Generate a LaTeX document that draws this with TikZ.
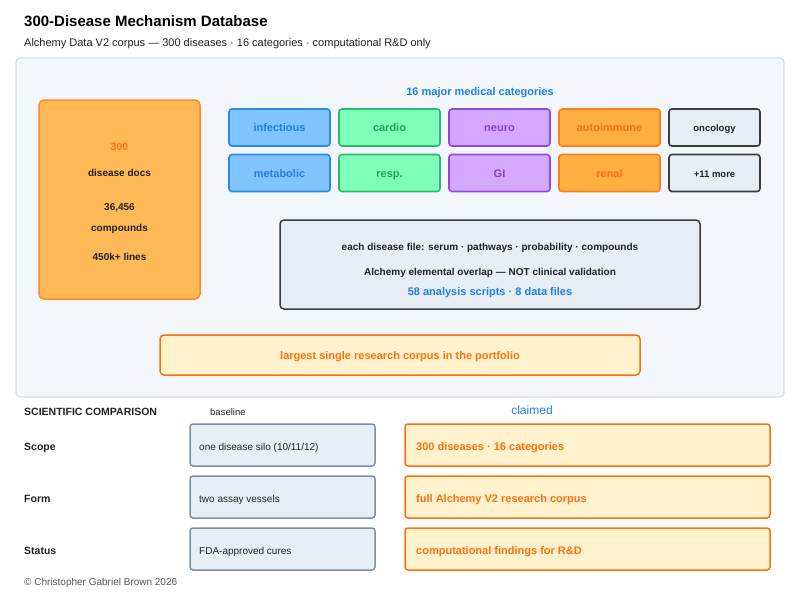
\documentclass[tikz,border=0pt]{standalone}
\usepackage{fontspec}
\setmainfont{Liberation Sans}
\usepackage{xcolor}

\definecolor{panelfill}{HTML}{F3F6FA}
\definecolor{panelline}{HTML}{D6DEE8}
\definecolor{inkdark}{HTML}{222222}
\definecolor{inkblue}{HTML}{1E80E0}
\definecolor{orgfill}{HTML}{FFB957}
\definecolor{orgline}{HTML}{FF8A2A}
\definecolor{orgtext}{HTML}{FF7010}
\definecolor{blufill}{HTML}{82C4FF}
\definecolor{bluline}{HTML}{2A8AE8}
\definecolor{grnfill}{HTML}{80FFB8}
\definecolor{grnline}{HTML}{2CB872}
\definecolor{grntext}{HTML}{22A05E}
\definecolor{purfill}{HTML}{D4A8FF}
\definecolor{purline}{HTML}{9048E0}
\definecolor{purtext}{HTML}{8A3ED8}
\definecolor{autfill}{HTML}{FFB040}
\definecolor{autline}{HTML}{FF7F1A}
\definecolor{grayfill}{HTML}{E8EEF6}
\definecolor{grayline}{HTML}{3C3C3C}
\definecolor{basline}{HTML}{8090A0}
\definecolor{notefill}{HTML}{FFF2CC}
\definecolor{noteline}{HTML}{FF700A}
\definecolor{footgray}{HTML}{555555}

\tikzset{
  every node/.style={inner sep=0pt, text height=.95em, text depth=.07em},
  catbox/.style={draw, line width=1.6pt, rounded corners=3pt, minimum width=101pt,
    minimum height=37pt, font=\fontsize{11}{13}\selectfont\bfseries},
  basebox/.style={draw=basline, fill=grayfill, line width=1.5pt, rounded corners=3pt,
    minimum width=185pt, minimum height=42pt},
  claimbox/.style={draw=noteline, fill=notefill, line width=1.5pt, rounded corners=3pt,
    minimum width=365pt, minimum height=42pt},
  rowlabel/.style={anchor=west, text=inkdark, font=\fontsize{10.5}{12}\selectfont\bfseries},
  basetext/.style={anchor=west, text=inkdark, font=\fontsize{10}{12}\selectfont},
  claimtext/.style={anchor=west, text=orgtext, font=\fontsize{11}{13}\selectfont\bfseries},
  stattext/.style={text=inkdark, font=\fontsize{10}{12}\selectfont\bfseries}
}

\begin{document}
\begin{tikzpicture}[x=1pt, y=-1pt]
    \useasboundingbox (0,0) rectangle (800,600);
    \fill[white] (0,0) rectangle (800,600);

    % Title
    \node[anchor=base west, text=black, font=\fontsize{15}{18}\selectfont\bfseries] (title) at (24,26) {300-Disease Mechanism Database};
    \node[anchor=base west, text=inkdark, font=\fontsize{11}{13}\selectfont] (subtitle) at (24,46) {Alchemy Data V2 corpus — 300 diseases · 16 categories · computational R\&D only};

    % Main panel
    \draw[draw=panelline, fill=panelfill, line width=1.2pt, rounded corners=4pt] (16,58) rectangle (784,397);

    % Corpus totals
    \node[draw=orgline, fill=orgfill, line width=1.5pt, rounded corners=5pt, minimum width=161pt, minimum height=199pt] (totals) at (119.5,199.5) {};
    \node[text=orgtext, font=\fontsize{10.5}{12}\selectfont\bfseries] (docs) at (119.5,146) {300};
    \node[stattext] (docslbl) at (119.5,172) {disease docs};
    \node[stattext] (cmpd) at (119.5,206) {36,456};
    \node[stattext] (cmpdlbl) at (119.5,227) {compounds};
    \node[stattext] (lines) at (119.5,256) {450k+ lines};

    % Categories
    \node[text=inkblue, font=\fontsize{11}{13}\selectfont\bfseries] (cathead) at (480,91) {16 major medical categories};

    \node[catbox, draw=bluline, fill=blufill, text=inkblue] (infectious) at (279.5,127.5) {infectious};
    \node[catbox, draw=grnline, fill=grnfill, text=grntext] (cardio) at (389.5,127.5) {cardio};
    \node[catbox, draw=purline, fill=purfill, text=purtext] (neuro) at (499.5,127.5) {neuro};
    \node[catbox, draw=autline, fill=autfill, text=orgtext] (autoimmune) at (609.5,127.5) {autoimmune};
    \node[catbox, draw=grayline, fill=grayfill, text=inkdark, minimum width=91pt,
      font=\fontsize{9.5}{11}\selectfont\bfseries] (oncology) at (714.5,127.5) {oncology};

    \node[catbox, draw=bluline, fill=blufill, text=inkblue] (metabolic) at (279.5,173) {metabolic};
    \node[catbox, draw=grnline, fill=grnfill, text=grntext] (resp) at (389.5,173) {resp.};
    \node[catbox, draw=purline, fill=purfill, text=purtext] (gi) at (499.5,173) {GI};
    \node[catbox, draw=autline, fill=autfill, text=orgtext] (renal) at (609.5,173) {renal};
    \node[catbox, draw=grayline, fill=grayfill, text=inkdark, minimum width=91pt,
      font=\fontsize{9.5}{11}\selectfont\bfseries] (more) at (714.5,173) {+11 more};

    % File contents
    \node[draw=grayline, fill=grayfill, line width=1.5pt, rounded corners=4pt, minimum width=420pt, minimum height=89pt] (filebox) at (490,264.5) {};
    \node[stattext] (fileline) at (490,246) {each disease file: serum · pathways · probability · compounds};
    \node[stattext] (overlap) at (490,271) {Alchemy elemental overlap — NOT clinical validation};
    \node[text=inkblue, font=\fontsize{11}{13}\selectfont\bfseries] (scripts) at (490,291) {58 analysis scripts · 8 data files};

    % Note
    \node[draw=noteline, fill=notefill, line width=1.5pt, rounded corners=4pt, minimum width=480pt, minimum height=40pt,
      text=orgtext, font=\fontsize{11}{13}\selectfont\bfseries] (note) at (400,355) {largest single research corpus in the portfolio};

    % Scientific comparison
    \node[rowlabel] (cmphead) at (24,411) {SCIENTIFIC COMPARISON};
    \node[anchor=west, text=inkdark, font=\fontsize{9.5}{11}\selectfont] (baselbl) at (210,411) {baseline};
    \node[text=inkblue, font=\fontsize{12}{14}\selectfont] (claimlbl) at (532,410) {claimed};

    \node[rowlabel] (scope) at (24,446) {Scope};
    \node[basebox] (scopebase) at (282.5,445) {};
    \node[basetext] at (199,446) {one disease silo (10/11/12)};
    \node[claimbox] (scopeclaim) at (587.5,445) {};
    \node[claimtext] at (416,446) {300 diseases · 16 categories};

    \node[rowlabel] (form) at (24,498) {Form};
    \node[basebox] (formbase) at (282.5,497) {};
    \node[basetext] at (199,498) {two assay vessels};
    \node[claimbox] (formclaim) at (587.5,497) {};
    \node[claimtext] at (416,498) {full Alchemy V2 research corpus};

    \node[rowlabel] (status) at (24,550) {Status};
    \node[basebox] (statusbase) at (282.5,549) {};
    \node[basetext] at (199,550) {FDA-approved cures};
    \node[claimbox] (statusclaim) at (587.5,549) {};
    \node[claimtext] at (416,550) {computational findings for R\&D};

    % Footer
    \node[anchor=west, text=footgray, font=\fontsize{10}{12}\selectfont] (footer) at (24,581) {© Christopher Gabriel Brown 2026};
\end{tikzpicture}
\end{document}
